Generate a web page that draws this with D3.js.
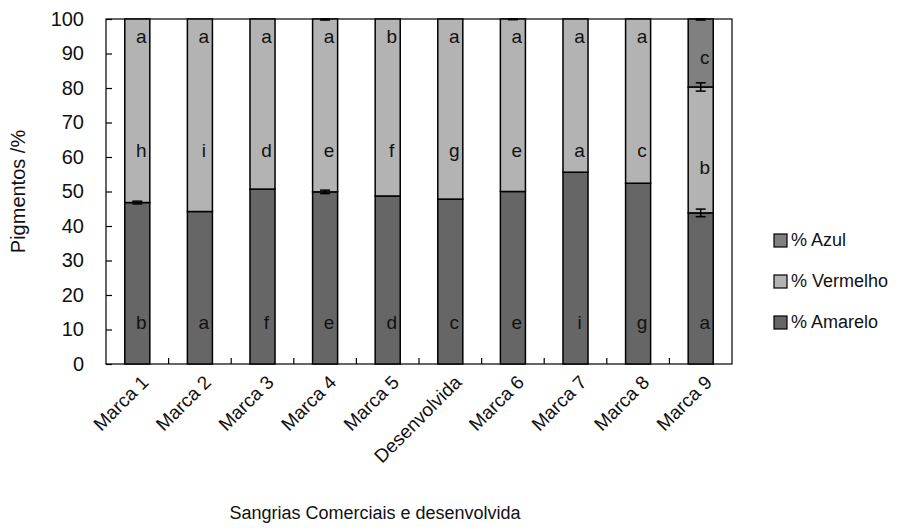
<!DOCTYPE html>
<html>
<head>
<meta charset="utf-8">
<script src="https://cdn.jsdelivr.net/npm/d3@7"></script>
<style>
  body { margin: 0; background: #fff; }
  svg { font-family: "Liberation Sans", Arial, sans-serif; }
</style>
</head>
<body>
<svg id="chart" width="906" height="530"></svg>
<script>
var categories = ["Marca 1", "Marca 2", "Marca 3", "Marca 4", "Marca 5", "Desenvolvida", "Marca 6", "Marca 7", "Marca 8", "Marca 9"];
var amarelo = [46.8, 44.2, 50.7, 49.9, 48.7, 47.8, 50.0, 55.6, 52.4, 43.8];
var vermelho = [53.2, 55.8, 49.3, 50.1, 51.3, 52.2, 50.0, 44.4, 47.6, 36.5];
var azul = [0, 0, 0, 0, 0, 0, 0, 0, 0, 19.7];
var errAmarelo = [0.4, 0, 0, 0.5, 0, 0, 0, 0, 0, 1.1];
var errVermelho = [0, 0, 0, 0.3, 0, 0, 0.2, 0, 0, 1.2];
var errAzul = [0, 0, 0, 0, 0, 0, 0, 0, 0, 0.3];
var letrasAmarelo = ["b", "a", "f", "e", "d", "c", "e", "i", "g", "a"];
var letrasVermelho = ["h", "i", "d", "e", "f", "g", "e", "a", "c", "b"];
var letrasAzul = ["a", "a", "a", "a", "b", "a", "a", "a", "a", "c"];
var yTicks = [0, 10, 20, 30, 40, 50, 60, 70, 80, 90, 100];
var seriesNames = ["% Azul", "% Vermelho", "% Amarelo"];

var colors = { amarelo: "#666666", vermelho: "#b3b3b3", azul: "#808080" };

var svg = d3.select("#chart");
var pLeft = 106, pRight = 732, pTop = 19, pBottom = 364;

var x = d3.scaleBand().domain(categories).range([pLeft, pRight]).paddingInner(0.6).paddingOuter(0.3);
var y = d3.scaleLinear().domain([0, 100]).range([pBottom, pTop]);

// stacked rows
var rows = categories.map(function(c, i) {
  return { cat: c, amarelo: amarelo[i], vermelho: vermelho[i], azul: azul[i] };
});
var layers = d3.stack().keys(["amarelo", "vermelho", "azul"])(rows);

// frame
svg.append("rect")
   .attr("x", pLeft).attr("y", pTop)
   .attr("width", pRight - pLeft).attr("height", pBottom - pTop)
   .attr("fill", "none").attr("stroke", "#000").attr("stroke-width", 1.2);

layers.forEach(function(layer) {
  svg.append("g").selectAll("rect")
     .data(layer)
     .enter().append("rect")
     .attr("x", function(d) { return x(d.data.cat); })
     .attr("width", x.bandwidth())
     .attr("y", function(d) { return y(d[1]); })
     .attr("height", function(d) { return y(d[0]) - y(d[1]); })
     .attr("fill", colors[layer.key])
     .attr("stroke", "#000")
     .attr("stroke-width", function(d) { return d[1] - d[0] > 0 ? 1.5 : 0; });
});

// error bars
function errorBars(errs, layerIdx) {
  var g = svg.append("g").attr("stroke", "#000").attr("stroke-width", 1.5);
  categories.forEach(function(c, i) {
    var e = errs[i];
    if (!e) return;
    var v = layers[layerIdx][i][1];
    var cx = x(c) + x.bandwidth() / 2;
    var y1 = y(Math.min(100, v + e)), y2 = y(v - e);
    g.append("line").attr("x1", cx).attr("x2", cx).attr("y1", y1).attr("y2", y2);
    g.append("line").attr("x1", cx - 5).attr("x2", cx + 5).attr("y1", y1).attr("y2", y1);
    g.append("line").attr("x1", cx - 5).attr("x2", cx + 5).attr("y1", y2).attr("y2", y2);
  });
}
errorBars(errAmarelo, 0);
errorBars(errVermelho, 1);
errorBars(errAzul, 2);

// letters
function letters(list, posFn) {
  svg.append("g").selectAll("text")
     .data(list)
     .enter().append("text")
     .attr("x", function(d, i) { return x(categories[i]) + x.bandwidth() / 2 + 4; })
     .attr("y", function(d, i) { return y(posFn(i)); })
     .attr("dy", "0.35em")
     .attr("text-anchor", "middle")
     .attr("font-size", 19)
     .attr("fill", "#111")
     .text(function(d) { return d; });
}
letters(letrasAmarelo, function(i) { return 12; });
letters(letrasVermelho, function(i) { return azul[i] > 5 ? 57 : 62; });
letters(letrasAzul, function(i) { return azul[i] > 5 ? 89 : 95; });

// y axis
var yAxis = svg.append("g")
   .attr("transform", "translate(" + pLeft + ",0)")
   .call(d3.axisLeft(y).tickValues(yTicks).tickSize(-6).tickPadding(22));
yAxis.select(".domain").remove();
yAxis.selectAll("line").attr("stroke-width", 1.2);
yAxis.selectAll("text").attr("font-size", 20).attr("fill", "#111").attr("font-family", "Liberation Sans, Arial, sans-serif");

// x ticks between categories
var bounds = d3.range(1, categories.length).map(function(i) { return pLeft + i * (pRight - pLeft) / categories.length; });
svg.append("g").selectAll("line")
   .data(bounds)
   .enter().append("line")
   .attr("x1", function(d) { return d; }).attr("x2", function(d) { return d; })
   .attr("y1", pBottom).attr("y2", pBottom - 6)
   .attr("stroke", "#000").attr("stroke-width", 1.2);

// x labels
svg.append("g").selectAll("text")
   .data(categories)
   .enter().append("text")
   .attr("transform", function(d) {
     return "translate(" + (x(d) + x.bandwidth() / 2 + 3) + "," + (pBottom + 10) + ") rotate(-45)";
   })
   .attr("text-anchor", "end")
   .attr("dy", "0.7em")
   .attr("font-size", 19)
   .attr("fill", "#111")
   .text(function(d) { return d; });

// axis titles
svg.append("text")
   .attr("transform", "translate(25," + ((pTop + pBottom) / 2) + ") rotate(-90)")
   .attr("text-anchor", "middle")
   .attr("font-size", 20)
   .attr("fill", "#111")
   .text("Pigmentos /%");

svg.append("text")
   .attr("x", 375).attr("y", 519)
   .attr("text-anchor", "middle")
   .attr("font-size", 18)
   .attr("fill", "#111")
   .text("Sangrias Comerciais e desenvolvida");

// legend
var legColors = [colors.azul, colors.vermelho, colors.amarelo];
var leg = svg.append("g").selectAll("g")
   .data(seriesNames)
   .enter().append("g")
   .attr("transform", function(d, i) { return "translate(774," + (240 + i * 41) + ")"; });
leg.append("rect")
   .attr("x", 0).attr("y", -6).attr("width", 13).attr("height", 13)
   .attr("fill", function(d, i) { return legColors[i]; })
   .attr("stroke", "#000").attr("stroke-width", 1.2);
leg.append("text")
   .attr("x", 17).attr("dy", "0.35em")
   .attr("font-size", 18)
   .attr("fill", "#111")
   .text(function(d) { return d; });
</script>
</body>
</html>
